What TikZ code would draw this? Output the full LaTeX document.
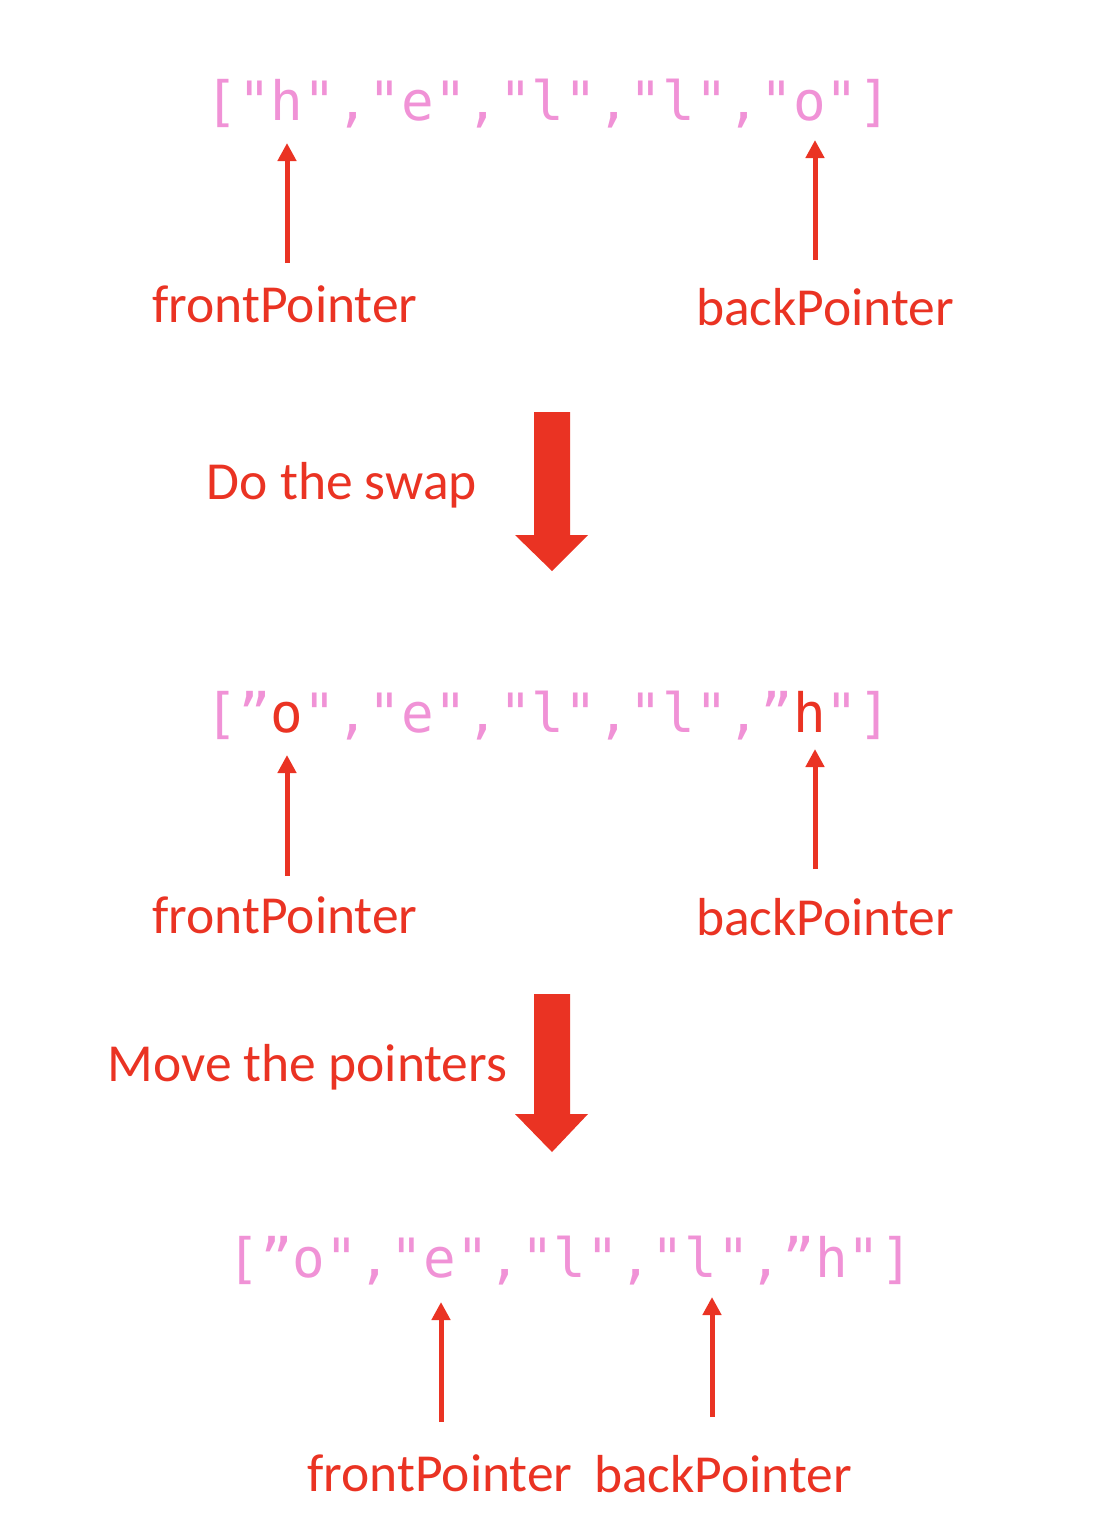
\documentclass[tikz,border=0pt]{standalone}
\usepackage{fontspec}
\setmainfont{Carlito}
\newfontfamily\codefont{DejaVu Sans Mono}
\usetikzlibrary{arrows.meta}
\definecolor{ptrred}{RGB}{234,51,35}
\definecolor{codepink}{RGB}{240,146,214}
\tikzset{
  arr/.style={anchor=base west, inner sep=0pt, text=codepink,
    font=\codefont\fontsize{54.2pt}{60pt}\selectfont},
  lbl/.style={anchor=base, inner sep=0pt, text=ptrred,
    font=\fontsize{53.5pt}{60pt}\selectfont},
  ptr/.style={ptrred, line width=5pt, -{Triangle[length=18pt,width=18pt]}},
}

\begin{document}
\begin{tikzpicture}[x=1pt, y=-1pt]
        \useasboundingbox (0,0) rectangle (1104,1534);
        % before the swap
        \node [arr] (arrA) at (205.5,120) {["h","e","l","l","o"]};
        \node [lbl] (fpA) at (285,322) {frontPointer};
        \node [lbl] (bpA) at (825,325) {backPointer};
        \coordinate (fpA1) at (287,263);
        \coordinate (fpA2) at (287,143);
        \coordinate (bpA1) at (815,260);
        \coordinate (bpA2) at (815,140);
        \draw [ptr] (fpA1) -- (fpA2);
        \draw [ptr] (bpA1) -- (bpA2);
        \fill [ptrred] (534,412) -- (570,412) -- (570,535) -- (588,535) -- (552,571) -- (515,535) -- (534,535) -- cycle;
        \node [lbl] (stepA) at (342,499) {Do the swap};
        % after the swap
        \node [arr] (arrB) at (205.5,732) {[”\textcolor{ptrred}{o}","e","l","l",”\textcolor{ptrred}{h}"]};
        \node [lbl] (fpB) at (285,933) {frontPointer};
        \node [lbl] (bpB) at (825,935) {backPointer};
        \coordinate (fpB1) at (287,876);
        \coordinate (fpB2) at (287,755);
        \coordinate (bpB1) at (815,869);
        \coordinate (bpB2) at (815,749);
        \draw [ptr] (fpB1) -- (fpB2);
        \draw [ptr] (bpB1) -- (bpB2);
        \fill [ptrred] (534,994) -- (570,994) -- (570,1114) -- (588,1114) -- (552,1152) -- (515,1114) -- (534,1114) -- cycle;
        \node [lbl] (stepB) at (307.5,1081) {Move the pointers};
        % after moving the pointers
        \node [arr] (arrC) at (227.5,1277) {[”o","e","l","l",”h"]};
        \node [lbl] (fpC) at (440,1491) {frontPointer};
        \node [lbl] (bpC) at (723,1492) {backPointer};
        \coordinate (fpC1) at (441,1422);
        \coordinate (fpC2) at (441,1302);
        \coordinate (bpC1) at (712,1417);
        \coordinate (bpC2) at (712,1297);
        \draw [ptr] (fpC1) -- (fpC2);
        \draw [ptr] (bpC1) -- (bpC2);
    \end{tikzpicture}
\end{document}
